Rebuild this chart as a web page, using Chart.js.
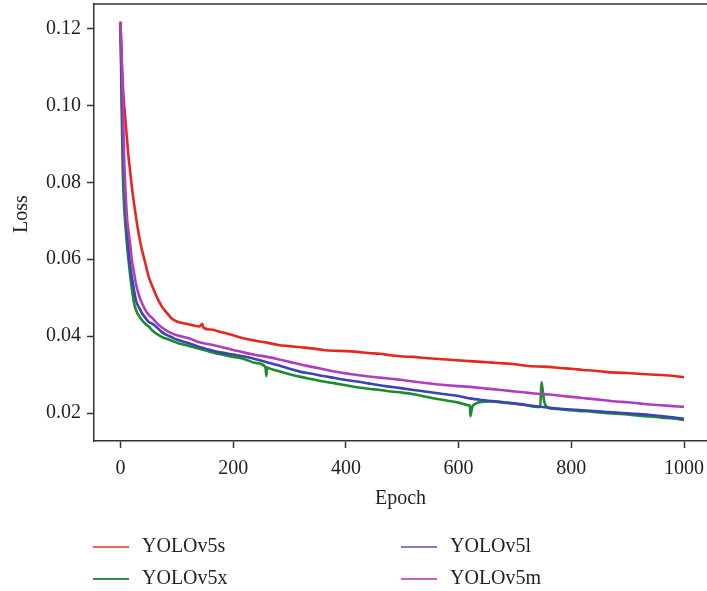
<!DOCTYPE html>
<html>
<head>
<meta charset="utf-8">
<script src="https://cdn.jsdelivr.net/npm/chart.js@4.4.1/dist/chart.umd.min.js"></script>
<style>
  html, body { margin: 0; padding: 0; background: #ffffff; }
  #wrap { width: 707px; height: 591px; position: relative; }
</style>
</head>
<body>
<div id="wrap"><canvas id="c" width="707" height="591"></canvas></div>
<script>
// ---- data ----
const seriesNames = ["YOLOv5s", "YOLOv5x", "YOLOv5l", "YOLOv5m"];
const epochs = [0, 2, 4, 6, 8, 10, 12, 14, 17, 20, 24, 28, 33, 38, 44, 50, 57, 65, 73, 82, 91,
  100, 120, 140, 160, 180, 200, 220, 240, 260, 280, 300, 320, 340, 360, 380, 400, 420, 440, 460, 480,
  500, 520, 540, 560, 580, 600, 620, 640, 660, 680, 700, 720, 740, 760, 780, 800, 820, 840, 860, 880,
  900, 920, 940, 960, 980, 1000];

const lossS = [0.1218, 0.1120, 0.1060, 0.1010, 0.0975, 0.0940, 0.0905, 0.0870, 0.0830, 0.0790, 0.0745, 0.0705, 0.0660, 0.0625, 0.0590, 0.0555, 0.0528, 0.0500, 0.0478, 0.0461, 0.0446,
  0.0438, 0.0431, 0.0425, 0.0417, 0.0410, 0.0402, 0.0394, 0.0388, 0.0383, 0.0377, 0.0374, 0.0371, 0.0368, 0.0364, 0.0362, 0.0361, 0.0359, 0.0356, 0.0354, 0.0350,
  0.0347, 0.0346, 0.0343, 0.0341, 0.0339, 0.0337, 0.0335, 0.0333, 0.0331, 0.0329, 0.0327, 0.0323, 0.0321, 0.0320, 0.0317, 0.0315, 0.0312, 0.0310, 0.0307, 0.0305,
  0.0304, 0.0302, 0.0300, 0.0299, 0.0297, 0.0293];
const lossX = [0.1210, 0.1000, 0.0830, 0.0750, 0.0700, 0.0665, 0.0630, 0.0600, 0.0560, 0.0525, 0.0486, 0.0466, 0.0452, 0.0442, 0.0432, 0.0425, 0.0414, 0.0405, 0.0398, 0.0393, 0.0388,
  0.0383, 0.0375, 0.0367, 0.0359, 0.0352, 0.0346, 0.0340, 0.0330, 0.0319, 0.0309, 0.0301, 0.0294, 0.0288, 0.0282, 0.0277, 0.0272, 0.0267, 0.0263, 0.0260, 0.0256,
  0.0253, 0.0249, 0.0243, 0.0237, 0.0232, 0.0227, 0.0219, 0.0229, 0.0230, 0.0227, 0.0224, 0.0220, 0.0216, 0.0213, 0.0210, 0.0207, 0.0205, 0.0203, 0.0200, 0.0198,
  0.0196, 0.0193, 0.0191, 0.0188, 0.0186, 0.0182];
const lossL = [0.1210, 0.1060, 0.0920, 0.0830, 0.0770, 0.0715, 0.0665, 0.0630, 0.0585, 0.0555, 0.0520, 0.0490, 0.0474, 0.0460, 0.0448, 0.0437, 0.0432, 0.0422, 0.0411, 0.0403, 0.0397,
  0.0391, 0.0382, 0.0372, 0.0364, 0.0357, 0.0352, 0.0347, 0.0340, 0.0332, 0.0324, 0.0315, 0.0307, 0.0302, 0.0296, 0.0291, 0.0286, 0.0282, 0.0277, 0.0272, 0.0268,
  0.0264, 0.0260, 0.0256, 0.0252, 0.0248, 0.0244, 0.0238, 0.0234, 0.0231, 0.0228, 0.0225, 0.0221, 0.0217, 0.0214, 0.0211, 0.0209, 0.0207, 0.0205, 0.0203, 0.0201,
  0.0199, 0.0197, 0.0195, 0.0192, 0.0189, 0.0185];
const lossM = [0.1215, 0.1130, 0.1030, 0.0890, 0.0805, 0.0745, 0.0700, 0.0675, 0.0640, 0.0600, 0.0565, 0.0532, 0.0505, 0.0486, 0.0468, 0.0455, 0.0446, 0.0433, 0.0423, 0.0414, 0.0407,
  0.0402, 0.0395, 0.0384, 0.0378, 0.0371, 0.0364, 0.0357, 0.0351, 0.0346, 0.0340, 0.0333, 0.0326, 0.0320, 0.0314, 0.0308, 0.0303, 0.0299, 0.0295, 0.0292, 0.0289,
  0.0286, 0.0282, 0.0278, 0.0275, 0.0272, 0.0270, 0.0268, 0.0265, 0.0262, 0.0259, 0.0256, 0.0253, 0.0250, 0.0248, 0.0245, 0.0242, 0.0239, 0.0236, 0.0233, 0.0230,
  0.0228, 0.0225, 0.0222, 0.0220, 0.0218, 0.0216];

// isolated spikes / dips
const bumpEpochsS = [145, 147];
const bumpLossS = [0.0432, 0.0422];
const bumpEpochsX = [257, 259, 261, 618, 621, 624, 630, 745, 747, 749, 752, 756];
const bumpLossX = [0.0320, 0.0296, 0.0318, 0.0220, 0.0192, 0.0215, 0.0224, 0.0216, 0.0280, 0.0262, 0.0230, 0.0216];

const xTickValues = [0, 200, 400, 600, 800, 1000];
const yTickValues = [0.02, 0.04, 0.06, 0.08, 0.10, 0.12];

// ---- build points ----
function points(ex, vals, bx, bv) {
  const pts = ex.map((e, i) => ({ x: e, y: vals[i] }));
  if (bx) bx.forEach((e, i) => pts.push({ x: e, y: bv[i] }));
  pts.sort((a, b) => a.x - b.x);
  return pts;
}

const lineColors = ["#e5281f", "#1c8c2b", "#3b45b2", "#b23cc0"];
const legendColors = ["#e8685a", "#2f8d47", "#7b7fc6", "#c064c9"];
const drawOrder = [3, 2, 1, 0];
const seriesData = [
  points(epochs, lossS, bumpEpochsS, bumpLossS),
  points(epochs, lossX, bumpEpochsX, bumpLossX),
  points(epochs, lossL),
  points(epochs, lossM)
];

const FONT = "'Liberation Serif', 'DejaVu Serif', serif";
const FSIZE = 20;
const TEXT = "#231f20";
const AXIS = "#333333";

const extras = {
  id: 'extras',
  afterDraw(chart) {
    const ctx = chart.ctx;
    const a = chart.chartArea;
    ctx.save();
    // top frame line
    ctx.strokeStyle = AXIS;
    ctx.lineWidth = 1.5;
    ctx.beginPath();
    ctx.moveTo(a.left, a.top);
    ctx.lineTo(a.right, a.top);
    ctx.stroke();
    // y title
    ctx.fillStyle = TEXT;
    ctx.font = FSIZE + "px " + FONT;
    ctx.textAlign = 'center';
    ctx.textBaseline = 'middle';
    ctx.save();
    ctx.translate(21.5, 214);
    ctx.rotate(-Math.PI / 2);
    ctx.fillText("Loss", 0, 0);
    ctx.restore();
    // legend (two columns)
    const slots = [[93, 547], [93, 579], [401, 547], [401, 579]];
    chart.data.datasets.forEach((ds, i) => {
      const [lx, ly] = slots[i];
      ctx.strokeStyle = legendColors[i];
      ctx.lineWidth = 2;
      ctx.beginPath();
      ctx.moveTo(lx, ly);
      ctx.lineTo(lx + 36, ly);
      ctx.stroke();
      ctx.fillStyle = TEXT;
      ctx.textAlign = 'left';
      ctx.textBaseline = 'middle';
      ctx.fillText(ds.label, lx + 49, ly);
    });
    ctx.restore();
  }
};

new Chart(document.getElementById('c'), {
  type: 'line',
  data: {
    datasets: seriesNames.map((n, i) => ({
      label: n,
      data: seriesData[i],
      borderColor: lineColors[i],
      backgroundColor: lineColors[i],
      borderWidth: 2.6,
      pointRadius: 0,
      cubicInterpolationMode: 'monotone',
      fill: false,
      order: drawOrder[i]
    }))
  },
  options: {
    responsive: false,
    animation: false,
    layout: { padding: { top: 4, left: 0, right: 0, bottom: 0 } },
    plugins: { legend: { display: false }, tooltip: { enabled: false } },
    scales: {
      x: {
        type: 'linear',
        min: -47,
        max: 1040.8,
        afterFit(s) { s.height = 150; s.paddingLeft = 0; s.paddingRight = 0; },
        afterBuildTicks(s) { s.ticks = xTickValues.map(v => ({ value: v })); },
        ticks: { font: { family: FONT, size: FSIZE }, color: TEXT, padding: 9, maxRotation: 0,
                 callback: v => String(v) },
        grid: { display: true, drawOnChartArea: false, drawTicks: true, tickLength: 7, tickWidth: 1.5, color: AXIS },
        border: { display: true, color: AXIS, width: 1.5 },
        title: { display: true, text: 'Epoch', font: { family: FONT, size: FSIZE }, color: TEXT,
                 padding: { top: 0, bottom: 80 } }
      },
      y: {
        type: 'linear',
        min: 0.01272,
        max: 0.12637,
        afterFit(s) { s.width = 94; s.paddingTop = 0; s.paddingBottom = 0; },
        afterBuildTicks(s) { s.ticks = yTickValues.map(v => ({ value: v })); },
        ticks: { font: { family: FONT, size: FSIZE }, color: TEXT, padding: 6,
                 callback: v => Number(v).toFixed(2) },
        grid: { display: true, drawOnChartArea: false, drawTicks: true, tickLength: 7, tickWidth: 1.5, color: AXIS },
        border: { display: true, color: AXIS, width: 1.5 }
      }
    }
  },
  plugins: [extras]
});
</script>
</body>
</html>
